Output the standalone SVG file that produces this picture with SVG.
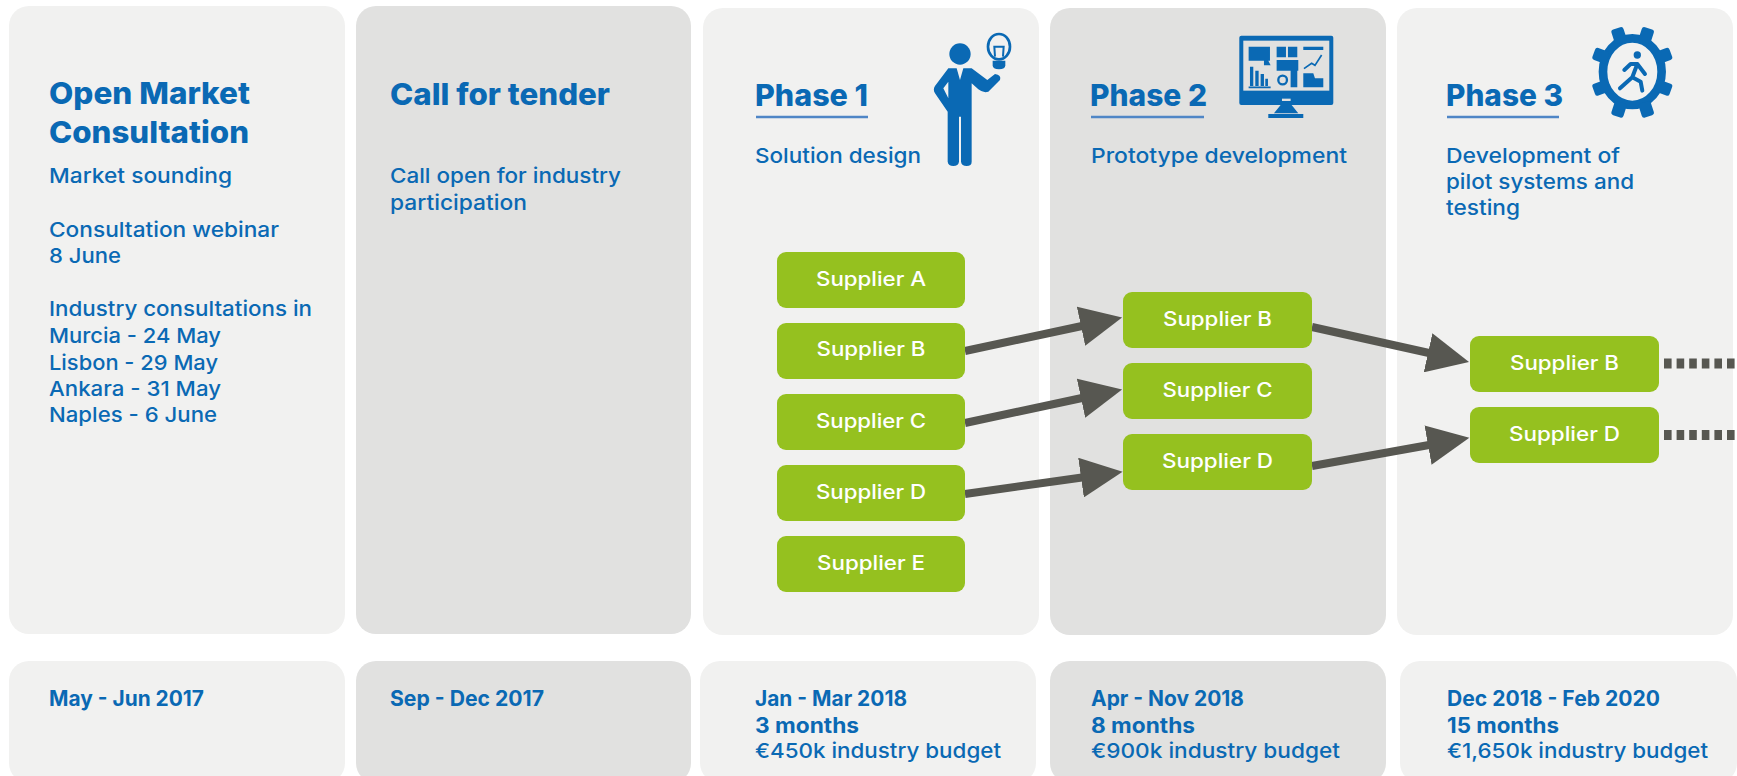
<svg xmlns="http://www.w3.org/2000/svg" width="1737" height="776" viewBox="0 0 1737 776">
<style>
text{font-family:"Inter","Open Sans","Liberation Sans",sans-serif;fill:#0a69b4}
.l{fill:#f1f1f0}.d{fill:#e1e1e0}
.t{font-size:30px;font-weight:800}
.b{font-size:20.5px;font-weight:500}
.m{font-size:21px;font-weight:700}
.g{fill:#95c11f}
.s{fill:#fff;font-size:20px;font-weight:500;text-anchor:middle}
.u{stroke:#4f86c6;stroke-width:2.5}
.i{fill:#0a69b4}
.a{stroke:#575751;stroke-width:8;fill:none;marker-end:url(#h)}
.o{stroke:#575751;stroke-width:10;stroke-dasharray:7.6 5;fill:none}
</style>
<defs>
<marker id="h" markerUnits="userSpaceOnUse" markerWidth="43" markerHeight="40" refX="1" refY="20" orient="auto"><path d="M0 0L42 20L0 40Z" fill="#575751"/></marker>
</defs>
<g id="panels">
<rect class="l" x="9" y="6" width="336" height="628" rx="20"/>
<rect class="d" x="356" y="6" width="335" height="628" rx="20"/>
<rect class="l" x="703" y="8" width="336" height="627" rx="20"/>
<rect class="d" x="1050" y="8" width="336" height="627" rx="20"/>
<rect class="l" x="1397" y="8" width="336" height="627" rx="20"/>
<rect class="l" x="9" y="661" width="336" height="122" rx="20"/>
<rect class="d" x="356" y="661" width="335" height="122" rx="20"/>
<rect class="l" x="700" y="661" width="336" height="122" rx="20"/>
<rect class="d" x="1050" y="661" width="336" height="122" rx="20"/>
<rect class="l" x="1400" y="661" width="337" height="122" rx="20"/>
</g>
<g id="col-consultation">
<text class="t" x="49" y="104" textLength="201" lengthAdjust="spacingAndGlyphs">Open Market</text>
<text class="t" x="49" y="143" textLength="200" lengthAdjust="spacingAndGlyphs">Consultation</text>
<text class="b" x="49" y="183" textLength="183" lengthAdjust="spacingAndGlyphs">Market sounding</text>
<text class="b" x="49" y="237" textLength="230" lengthAdjust="spacingAndGlyphs">Consultation webinar</text>
<text class="b" x="49" y="263" textLength="72" lengthAdjust="spacingAndGlyphs">8 June</text>
<text class="b" x="49" y="316" textLength="263" lengthAdjust="spacingAndGlyphs">Industry consultations in</text>
<text class="b" x="49" y="343" textLength="172" lengthAdjust="spacingAndGlyphs">Murcia - 24 May</text>
<text class="b" x="49" y="370" textLength="169" lengthAdjust="spacingAndGlyphs">Lisbon - 29 May</text>
<text class="b" x="49" y="396" textLength="172" lengthAdjust="spacingAndGlyphs">Ankara - 31 May</text>
<text class="b" x="49" y="422" textLength="168" lengthAdjust="spacingAndGlyphs">Naples - 6 June</text>
<text class="m" x="49" y="706" textLength="155" lengthAdjust="spacingAndGlyphs">May - Jun 2017</text>
</g>
<g id="col-tender">
<text class="t" x="390" y="105" textLength="220" lengthAdjust="spacingAndGlyphs">Call for tender</text>
<text class="b" x="390" y="183" textLength="231" lengthAdjust="spacingAndGlyphs">Call open for industry</text>
<text class="b" x="390" y="210" textLength="137" lengthAdjust="spacingAndGlyphs">participation</text>
<text class="m" x="390" y="706" textLength="154" lengthAdjust="spacingAndGlyphs">Sep - Dec 2017</text>
</g>
<g id="col-phase1">
<text class="t" x="755" y="106" textLength="113" lengthAdjust="spacingAndGlyphs">Phase 1</text>
<line class="u" x1="756" y1="117" x2="868" y2="117"/>
<text class="b" x="755" y="163" textLength="166" lengthAdjust="spacingAndGlyphs">Solution design</text>
<text class="m" x="755" y="706" textLength="152" lengthAdjust="spacingAndGlyphs">Jan - Mar 2018</text>
<text class="m" x="755" y="733" textLength="104" lengthAdjust="spacingAndGlyphs">3 months</text>
<text class="b" x="755" y="758" textLength="246" lengthAdjust="spacingAndGlyphs">€450k industry budget</text>
</g>
<g id="icon-person" transform="translate(900 0) scale(.3333)">
<circle class="i" cx="180" cy="162" r="32"/>
<path class="i" fill-rule="evenodd" d="M145 205L170 205L180 240L190 205L215 205L262 240L285 222Q305 225 300 240L265 275Q250 280 235 268L215 250L215 485Q215 498 200 498Q185 498 183 485L183 350L177 350L177 485Q175 498 160 498Q145 498 143 485L143 335L105 280Q98 268 105 258ZM130 265L145 245L145 295Z"/>
<ellipse cx="297" cy="140" rx="33" ry="38" fill="none" stroke="#0a69b4" stroke-width="8"/>
<path class="i" d="M278 182H316V196Q316 208 297 208Q278 208 278 196Z"/>
<path d="M285 170L283 140H311L309 170" fill="none" stroke="#0a69b4" stroke-width="6"/>
</g>
<g id="col-phase2">
<text class="t" x="1090" y="106" textLength="117" lengthAdjust="spacingAndGlyphs">Phase 2</text>
<line class="u" x1="1091" y1="117" x2="1204" y2="117"/>
<text class="b" x="1091" y="163" textLength="256" lengthAdjust="spacingAndGlyphs">Prototype development</text>
<text class="m" x="1091" y="706" textLength="153" lengthAdjust="spacingAndGlyphs">Apr - Nov 2018</text>
<text class="m" x="1091" y="733" textLength="104" lengthAdjust="spacingAndGlyphs">8 months</text>
<text class="b" x="1091" y="758" textLength="249" lengthAdjust="spacingAndGlyphs">€900k industry budget</text>
</g>
<g id="icon-monitor" transform="translate(900 0) scale(.3333)">
<rect class="i" x="1018" y="107" width="282" height="208" rx="6"/>
<rect class="d" x="1030" y="122" width="258" height="150"/>
<rect class="d" x="1146" y="296" width="26" height="7"/>
<path class="i" d="M1142 315H1175L1195 340H1122ZM1105 342H1210V354H1105Z"/>
<path class="i" d="M1046 140H1110V182H1046ZM1130 140H1158V172H1130ZM1164 140H1192V172H1164ZM1210 140H1270V150H1210ZM1130 180H1195V212H1130ZM1172 212H1192V262H1172ZM1210 220H1240L1245 235H1270V262H1210ZM1050 200H1060V258H1050ZM1066 212H1076V258H1066ZM1082 222H1092V258H1082ZM1096 236H1104V258H1096ZM1092 182L1102 176L1112 196H1092Z"/>
<circle cx="1148" cy="240" r="13" fill="none" stroke="#0a69b4" stroke-width="7"/>
<path d="M1212 206L1235 190L1245 196L1265 165M1046 262H1112" fill="none" stroke="#0a69b4" stroke-width="5"/>
</g>
<g id="col-phase3">
<text class="t" x="1446" y="106" textLength="117" lengthAdjust="spacingAndGlyphs">Phase 3</text>
<line class="u" x1="1447" y1="117" x2="1559" y2="117"/>
<text class="b" x="1446" y="163" textLength="174" lengthAdjust="spacingAndGlyphs">Development of</text>
<text class="b" x="1446" y="189" textLength="188" lengthAdjust="spacingAndGlyphs">pilot systems and</text>
<text class="b" x="1446" y="215" textLength="74" lengthAdjust="spacingAndGlyphs">testing</text>
<text class="m" x="1447" y="706" textLength="213" lengthAdjust="spacingAndGlyphs">Dec 2018 - Feb 2020</text>
<text class="m" x="1447" y="733" textLength="112" lengthAdjust="spacingAndGlyphs">15 months</text>
<text class="b" x="1447" y="758" textLength="261" lengthAdjust="spacingAndGlyphs">€1,650k industry budget</text>
</g>
<g id="icon-gear" transform="translate(1380 0) scale(.3333)">
<ellipse cx="757" cy="215" rx="88" ry="100" fill="none" stroke="#0a69b4" stroke-width="26"/>
<g class="i">
<rect x="698" y="84" width="38" height="44" rx="8" transform="rotate(-18 717 106)"/>
<rect x="780" y="84" width="38" height="44" rx="8" transform="rotate(18 799 106)"/>
<rect x="640" y="148" width="44" height="38" rx="8" transform="rotate(20 662 167)"/>
<rect x="830" y="148" width="44" height="38" rx="8" transform="rotate(-20 852 167)"/>
<rect x="640" y="245" width="44" height="38" rx="8" transform="rotate(-20 662 264)"/>
<rect x="830" y="245" width="44" height="38" rx="8" transform="rotate(20 852 264)"/>
<rect x="698" y="306" width="38" height="44" rx="8" transform="rotate(18 717 328)"/>
<rect x="780" y="306" width="38" height="44" rx="8" transform="rotate(-18 799 328)"/>
<circle cx="772" cy="165" r="11"/>
</g>
<path d="M733 210L752 192L772 192L795 222M772 192L757 232L720 265M757 232L782 245L787 272" fill="none" stroke="#0a69b4" stroke-width="12" stroke-linecap="round" stroke-linejoin="round"/>
</g>
<g id="connectors">
<line class="a" x1="965" y1="351" x2="1082" y2="326"/>
<line class="a" x1="965" y1="423" x2="1082" y2="398"/>
<line class="a" x1="965" y1="494" x2="1082" y2="477.5"/>
<line class="a" x1="1312" y1="327" x2="1429" y2="353"/>
<line class="a" x1="1312" y1="466" x2="1429" y2="445"/>
<line class="o" x1="1664" y1="363.5" x2="1737" y2="363.5"/>
<line class="o" x1="1664" y1="435" x2="1737" y2="435"/>
</g>
<g id="p1-supplier-a"><rect class="g" x="777" y="252" width="188" height="56" rx="9"/><text class="s" x="871" y="286" textLength="110" lengthAdjust="spacingAndGlyphs">Supplier A</text></g>
<g id="p1-supplier-b"><rect class="g" x="777" y="323" width="188" height="56" rx="9"/><text class="s" x="871" y="356" textLength="109" lengthAdjust="spacingAndGlyphs">Supplier B</text></g>
<g id="p1-supplier-c"><rect class="g" x="777" y="394" width="188" height="56" rx="9"/><text class="s" x="871" y="428" textLength="110" lengthAdjust="spacingAndGlyphs">Supplier C</text></g>
<g id="p1-supplier-d"><rect class="g" x="777" y="465" width="188" height="56" rx="9"/><text class="s" x="871" y="499" textLength="110" lengthAdjust="spacingAndGlyphs">Supplier D</text></g>
<g id="p1-supplier-e"><rect class="g" x="777" y="536" width="188" height="56" rx="9"/><text class="s" x="871" y="570" textLength="108" lengthAdjust="spacingAndGlyphs">Supplier E</text></g>
<g id="p2-supplier-b"><rect class="g" x="1123" y="292" width="189" height="56" rx="9"/><text class="s" x="1217.5" y="326" textLength="109" lengthAdjust="spacingAndGlyphs">Supplier B</text></g>
<g id="p2-supplier-c"><rect class="g" x="1123" y="363" width="189" height="56" rx="9"/><text class="s" x="1217.5" y="397" textLength="110" lengthAdjust="spacingAndGlyphs">Supplier C</text></g>
<g id="p2-supplier-d"><rect class="g" x="1123" y="434" width="189" height="56" rx="9"/><text class="s" x="1217.5" y="468" textLength="111" lengthAdjust="spacingAndGlyphs">Supplier D</text></g>
<g id="p3-supplier-b"><rect class="g" x="1470" y="336" width="189" height="56" rx="9"/><text class="s" x="1564.5" y="370" textLength="109" lengthAdjust="spacingAndGlyphs">Supplier B</text></g>
<g id="p3-supplier-d"><rect class="g" x="1470" y="407" width="189" height="56" rx="9"/><text class="s" x="1564.5" y="441" textLength="111" lengthAdjust="spacingAndGlyphs">Supplier D</text></g>
</svg>
